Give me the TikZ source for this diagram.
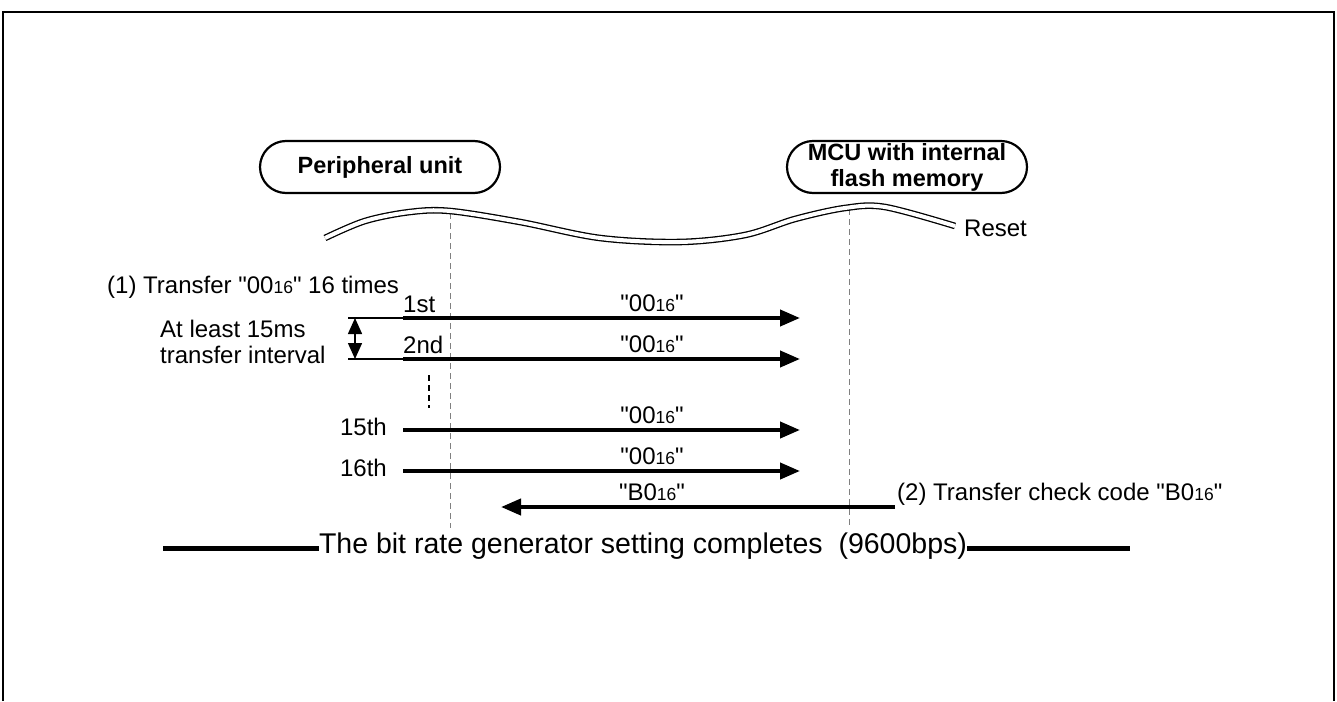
\documentclass[tikz,border=0pt]{standalone}
\usepackage{fontspec}
\setmainfont{Liberation Sans}[Ligatures=TeXOff]
\usetikzlibrary{arrows.meta}
\newcommand\hexv[2]{#1{\fontsize{17.5}{17.5}\selectfont #2}}
\begin{document}
\begin{tikzpicture}[x=1pt,y=-1pt,
  txt/.style={font=\fontsize{24}{26}\selectfont, inner sep=0pt},
  bigtxt/.style={font=\fontsize{28.5}{32}\selectfont, inner sep=0pt},
  unitbox/.style={draw, line width=2.2pt, rounded corners=26pt, minimum width=240pt, minimum height=52pt, align=center, inner sep=0pt, font=\fontsize{23.5}{26}\selectfont\bfseries},
  msg/.style={line width=4pt, -{Triangle[length=20pt,width=16pt]}},
  leader/.style={line width=1.2pt},
  lifeline/.style={gray, line width=1pt, dash pattern=on 6pt off 4pt},
  bar/.style={line width=5pt},
]
\useasboundingbox (0,0) rectangle (1337,701);
% frame
\draw[line width=2pt] (3,701) -- (3,12) -- (1334,12) -- (1334,701);

% units
\node[unitbox] (pu) at (380,167) {Peripheral unit};
\node[unitbox] (mcu) at (907,167) {MCU with internal\\flash memory};

% lifelines
\coordinate (l1t) at (450,213);
\coordinate (l1b) at (450,528);
\coordinate (l2t) at (849,209);
\coordinate (l2b) at (849,528);
\draw[lifeline] (l1t) -- (l1b);
\draw[lifeline] (l2t) -- (l2b);

% reset wave
\draw[line width=1.3pt, double=white, double distance=4pt]
  plot[smooth, tension=0.55] coordinates {(325,238) (365,221) (410,212) (450,211) (520,222) (600,238) (680,242) (745,235) (795,219) (845,208) (885,207) (955,226)};
\node[txt, anchor=west] (reset) at (964,228) {Reset};

% step (1)
\node[txt, anchor=base west] (t1) at (107,293) {(1) Transfer "\hexv{00}{16}" 16 times};
\node[txt, anchor=base west] (il1) at (160,337) {At least 15ms};
\node[txt, anchor=base west] (il2) at (160,363) {transfer interval};

\coordinate (s1) at (403,318);  \coordinate (e1) at (800,318);
\coordinate (s2) at (403,359);  \coordinate (e2) at (800,359);
\coordinate (s15) at (403,430); \coordinate (e15) at (800,430);
\coordinate (s16) at (403,471); \coordinate (e16) at (800,471);
\coordinate (g1) at (348,318);  \coordinate (g2) at (348,359);
\coordinate (d1) at (355,318);  \coordinate (d2) at (355,359);

\draw[leader] (g1) -- (s1);
\draw[leader] (g2) -- (s2);
\draw[line width=1.5pt, {Triangle[length=16pt,width=14pt]}-{Triangle[length=16pt,width=14pt]}] (d1) -- (d2);

\draw[msg] (s1) -- (e1);
\draw[msg] (s2) -- (e2);
\draw[msg] (s15) -- (e15);
\draw[msg] (s16) -- (e16);

\node[txt, anchor=base west] (n1) at (403,312) {1st};
\node[txt, anchor=base west] (n2) at (403,353) {2nd};
\node[txt, anchor=base east] (n15) at (387,435) {15th};
\node[txt, anchor=base east] (n16) at (387,476) {16th};

\node[txt, anchor=base] (m1) at (652,311) {"\hexv{00}{16}"};
\node[txt, anchor=base] (m2) at (652,352) {"\hexv{00}{16}"};
\node[txt, anchor=base] (m15) at (652,423) {"\hexv{00}{16}"};
\node[txt, anchor=base] (m16) at (652,464) {"\hexv{00}{16}"};

\coordinate (v1) at (429,375); \coordinate (v2) at (429,408);
\draw[line width=2.5pt, dash pattern=on 6pt off 4pt] (v1) -- (v2);

% step (2)
\coordinate (bs) at (895,507); \coordinate (be) at (501,507);
\draw[msg] (bs) -- (be);
\node[txt, anchor=base] (mb) at (652,500) {"\hexv{B0}{16}"};
\node[txt, anchor=base west] (t2) at (897,500) {(2) Transfer check code "\hexv{B0}{16}"};

% completion
\node[bigtxt, anchor=base] (done) at (643,553) {The bit rate generator setting completes\ \ (9600bps)};
\coordinate (bl) at (163,548);
\coordinate (br) at (1130,548);
\draw[bar] (bl) -- (done.west |- bl);
\draw[bar] (done.east |- br) -- (br);
\end{tikzpicture}
\end{document}
